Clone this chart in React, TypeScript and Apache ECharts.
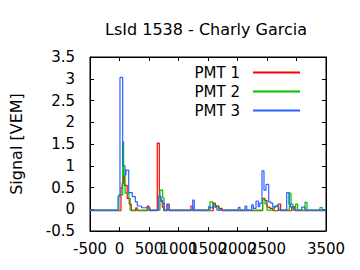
import React, { useEffect, useRef } from "react";
import * as echarts from "echarts";

const titleText = "LsId 1538 - Charly Garcia";
const yAxisName = "Signal [VEM]";
const seriesNames = ["PMT 1", "PMT 2", "PMT 3"];
const seriesColors = ["#ff0000", "#00c000", "#3060ff"];

// step change points [time, signal]
const pmt1: [number, number][] = [
  [-500, -0.035], [25, 0.49], [45, 0.6], [60, 0.78], [80, 0.55], [130, 0.25], [165, 0.12], [200, -0.035],
  [275, 0.03], [300, -0.035], [470, 0.075], [500, -0.035], [640, 1.52], [675, 0.29], [700, 0.18], [725, 0.05],
  [750, -0.035], [805, 0.12], [840, -0.035], [1210, 0.075], [1240, -0.035], [1590, 0.14], [1625, 0.08],
  [1680, 0.02], [1740, -0.035], [2425, 0.25], [2465, 0.2], [2500, 0.05], [2550, 0.02], [2600, -0.035],
  [2692, 0.12], [2732, -0.035], [2920, 0.06], [2975, -0.035], [3500, -0.035],
];

const pmt2: [number, number][] = [
  [-500, -0.02], [-10, 0.33], [55, 1.55], [70, 0.78], [95, 0.37], [160, 0.25], [180, -0.02],
  [686, 0.44], [732, 0.26], [754, -0.02], [1534, 0.17], [1580, 0.1], [1630, 0.06], [1690, -0.02],
  [2427, 0.24], [2466, 0.12], [2500, -0.02], [2624, 0.07], [2675, 0.1], [2692, -0.02],
  [2878, 0.37], [2907, 0.12], [2940, -0.02], [2987, 0.12], [3020, -0.02], [3144, 0.16], [3178, -0.02],
  [3398, 0.04], [3437, -0.02], [3500, -0.02],
];

const pmt3: [number, number][] = [
  [-500, -0.02], [-25, 0.3], [8, 3.03], [54, 1.0], [93, 0.79], [110, 0.9], [156, 0.38], [217, 0.29],
  [268, 0.17], [302, 0.075], [376, 0.035], [517, -0.02], [664, 0.3], [700, 0.21], [730, 0.14], [760, -0.02],
  [805, 0.1], [840, -0.02], [1241, 0.21], [1268, -0.02], [1510, 0.06], [1540, 0.03], [1580, 0.08],
  [1620, 0.04], [1650, -0.02], [2014, 0.045], [2042, -0.02], [2127, 0.07], [2156, -0.02], [2241, 0.1],
  [2268, 0.02], [2314, 0.19], [2353, 0.06], [2376, 0.14], [2415, 0.88], [2449, 0.44], [2483, 0.57],
  [2529, 0.17], [2563, 0.14], [2597, 0.05], [2650, 0.07], [2700, -0.02], [2834, 0.38], [2873, 0.12],
  [2900, 0.05], [2950, -0.02], [3088, 0.05], [3144, -0.02], [3500, -0.02],
];

const seriesData = [pmt1, pmt2, pmt3];

const font = "DejaVu Sans";

export default function App() {
  const ref = useRef<HTMLDivElement>(null);
  useEffect(() => {
    if (!ref.current) return;
    const chart = echarts.init(ref.current, undefined, { renderer: "svg" });
    const axisCommon = {
      type: "value" as const,
      axisLine: { show: true, onZero: false, lineStyle: { color: "#000", width: 1 } },
      axisTick: { show: true, inside: true, length: 4, lineStyle: { color: "#000" } },
      splitLine: { show: false },
    };
    chart.setOption({
      animation: false,
      backgroundColor: "#fff",
      title: {
        text: titleText,
        left: 100,
        top: 16,
        textStyle: { fontFamily: font, fontSize: 16, fontWeight: "normal", color: "#000" },
      },
      legend: {
        orient: "vertical",
        right: 55,
        top: 59,
        align: "right",
        icon: "rect",
        itemWidth: 47,
        itemHeight: 2,
        itemGap: 2,
        data: seriesNames,
        textStyle: { fontFamily: font, fontSize: 15, color: "#000", lineHeight: 17, padding: [0, 8, 0, 0] },
      },
      grid: { left: 90, right: 34, top: 57, bottom: 39, show: true, borderColor: "#000", borderWidth: 1, backgroundColor: "transparent" },
      xAxis: [
        {
          ...axisCommon,
          min: -500,
          max: 3500,
          interval: 500,
          axisLabel: {
            fontFamily: font, fontSize: 15, color: "#000", margin: 10,
            showMinLabel: true, showMaxLabel: true, hideOverlap: false,
            formatter: (v: number) => String(v),
          },
        },
        {
          ...axisCommon,
          position: "top",
          min: -500,
          max: 3500,
          interval: 500,
          axisLabel: { show: false },
        },
      ],
      yAxis: [
        {
          ...axisCommon,
          min: -0.5,
          max: 3.5,
          interval: 0.5,
          name: yAxisName,
          nameLocation: "middle",
          nameGap: 66,
          nameTextStyle: { fontFamily: font, fontSize: 16, color: "#000" },
          axisLabel: { fontFamily: font, fontSize: 15, color: "#000", margin: 15, formatter: (v: number) => String(v) },
        },
        {
          ...axisCommon,
          position: "right",
          min: -0.5,
          max: 3.5,
          interval: 0.5,
          axisLabel: { show: false },
        },
      ],
      series: [
        ...seriesData.map((d, i) => ({
          name: seriesNames[i],
          type: "line",
          step: "end",
          data: d,
          showSymbol: false,
          symbol: "none",
          color: seriesColors[i],
          lineStyle: { width: 1.2, color: seriesColors[i] },
          z: 2 + i,
        })),
        {
          name: "mirror",
          type: "line",
          xAxisIndex: 1,
          yAxisIndex: 1,
          data: [],
          silent: true,
        },
      ],
    });
    return () => chart.dispose();
  }, []);
  return <div ref={ref} style={{ width: 360, height: 270, margin: -8 }} />;
}
